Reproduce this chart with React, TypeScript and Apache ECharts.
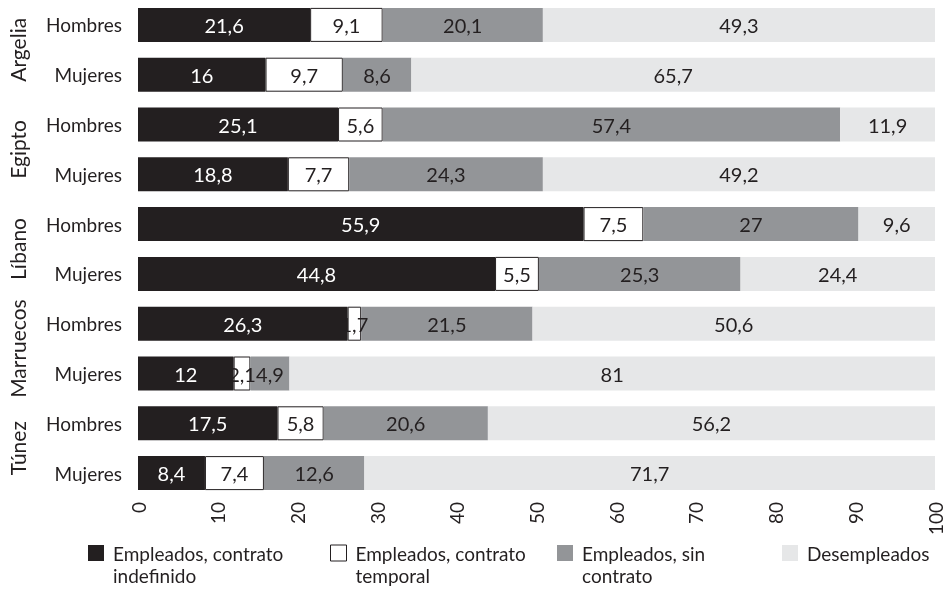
import { useEffect, useRef } from 'react';
import * as echarts from 'echarts';

const countries = ['Argelia', 'Egipto', 'Líbano', 'Marruecos', 'Túnez'];
const sexes = ['Hombres', 'Mujeres'];
const rows = countries.flatMap((c) => sexes.map((s) => c + '|' + s));

const seriesNames = [
  'Empleados, contrato indefinido',
  'Empleados, contrato temporal',
  'Empleados, sin contrato',
  'Desempleados',
];
const legendLabels = [
  'Empleados, contrato\nindefinido',
  'Empleados, contrato\ntemporal',
  'Empleados, sin\ncontrato',
  'Desempleados',
];

const indefinido = [21.6, 16, 25.1, 18.8, 55.9, 44.8, 26.3, 12, 17.5, 8.4];
const temporal = [9.1, 9.7, 5.6, 7.7, 7.5, 5.5, 1.7, 2.1, 5.8, 7.4];
const sinContrato = [20.1, 8.6, 57.4, 24.3, 27, 25.3, 21.5, 4.9, 20.6, 12.6];
const desempleados = [49.3, 65.7, 11.9, 49.2, 9.6, 24.4, 50.6, 81, 56.2, 71.7];

const seriesValues = [indefinido, temporal, sinContrato, desempleados];

const colors = ['#231f20', '#ffffff', '#939598', '#e6e7e8'];
const labelColors = ['#ffffff', '#231f20', '#231f20', '#231f20'];
const legendLefts = [88, 330, 557, 782];

const FONT = 'Lato, "Noto Sans", sans-serif';
const TEXT = '#231f20';
const LH = 22;
// square in the top part of a taller box, so the icon lines up with the first text line
const TALL_ICON = 'path://M0,0H16V16H0Z M0,38';

export default function App() {
  const ref = useRef<HTMLDivElement>(null);
  useEffect(() => {
    if (!ref.current) return;
    const chart = echarts.init(ref.current, undefined, { renderer: 'svg' });
    const option: any = {
      animation: false,
      textStyle: { fontFamily: FONT },
      grid: { left: 138, right: 13, top: -2, bottom: 94, containLabel: false },
      xAxis: {
        type: 'value',
        min: 0,
        max: 100,
        interval: 10,
        splitLine: { show: false },
        axisLine: { show: false },
        axisTick: { show: false },
        axisLabel: { rotate: 90, margin: 4, fontSize: 19, color: TEXT, fontFamily: FONT },
      },
      yAxis: [
        {
          type: 'category',
          data: rows,
          inverse: true,
          axisLine: { show: false },
          axisTick: { show: false },
          axisLabel: {
            interval: 0,
            formatter: (v: string) => v.split('|')[1],
            margin: 16,
            fontSize: 19,
            color: TEXT,
            fontFamily: FONT,
          },
        },
        {
          type: 'category',
          data: countries,
          inverse: true,
          position: 'left',
          offset: 100,
          axisLine: { show: false },
          axisTick: { show: false },
          axisLabel: { interval: 0, rotate: 90, margin: 10, fontSize: 21, color: TEXT, fontFamily: FONT },
        },
      ],
      legend: seriesNames.map((n, i) => ({
        data: [{ name: n, icon: i < 3 ? TALL_ICON : 'rect' }],
        left: legendLefts[i],
        top: 545 - 3,
        padding: 0,
        itemWidth: 16,
        itemHeight: i < 3 ? 38 : 16,
        selectedMode: false,
        formatter: () => legendLabels[i],
        itemStyle: i === 1 ? { borderColor: '#231f20', borderWidth: 1 } : {},
        textStyle: {
          fontSize: 19,
          lineHeight: LH,
          color: TEXT,
          fontFamily: FONT,
          padding: [0, 0, 0, 4],
        },
      })),
      series: seriesNames.map((n, i) => ({
        name: n,
        type: 'bar',
        stack: 'total',
        yAxisIndex: 0,
        barWidth: 34,
        data: seriesValues[i],
        itemStyle: {
          color: colors[i],
          borderColor: i === 1 ? '#231f20' : colors[i],
          borderWidth: i === 1 ? 1 : 0,
        },
        label: {
          show: true,
          position: 'inside',
          formatter: (p: any) => String(p.value).replace('.', ','),
          color: labelColors[i],
          fontSize: 20,
          fontFamily: FONT,
        },
      })),
    };
    chart.setOption(option);
    return () => chart.dispose();
  }, []);
  return <div ref={ref} style={{ position: 'fixed', left: 0, top: 0, width: 948, height: 592 }} />;
}
